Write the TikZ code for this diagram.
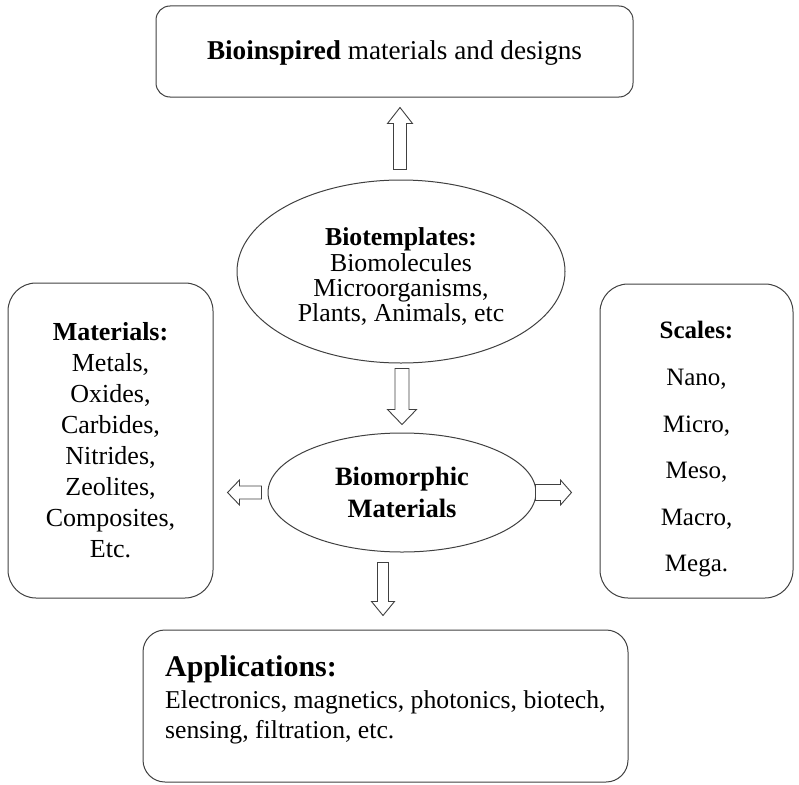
\documentclass[tikz,border=0pt]{standalone}
\usepackage{fontspec}
\setmainfont{Liberation Serif}
\usetikzlibrary{shapes.geometric,calc}
\tikzset{
  box/.style={draw=black!75, line width=1pt, rounded corners=#1, inner sep=0pt, align=center},
  box/.default=14pt,
  ell/.style={draw=black!75, line width=1pt, ellipse, inner sep=0pt, align=center},
  arrline/.style={draw=black!75, line width=0.9pt, fill=white},
  pics/barrow/.style args={#1/#2/#3/#4}{code={
    \path[arrline] (0,-#2) -- ({#1-#4},-#2) -- ({#1-#4},-#3) -- (#1,0) -- ({#1-#4},#3) -- ({#1-#4},#2) -- (0,#2) -- cycle;
  }}
}
\begin{document}
\begin{tikzpicture}[x=1pt,y=-1pt]
\useasboundingbox (0,0) rectangle (799,784);

\node[box=14pt, minimum width=477pt, minimum height=91pt, font=\fontsize{27.2}{30}\selectfont] (top) at (394.5,51.5) {\rule{0pt}{22.5pt}\textbf{Bioinspired} materials and designs};

\node[ell, minimum width=328pt, minimum height=183pt, font=\fontsize{25.8}{25.3}\selectfont] (bt) at (401,271.5) {\rule{0pt}{28.5pt}\textbf{Biotemplates:}\\Biomolecules\\Microorganisms,\\Plants, Animals, etc};

\node[ell, minimum width=268pt, minimum height=119pt, font=\fontsize{26.5}{32}\selectfont\bfseries] (bm) at (402,492.5) {Biomorphic\\Materials};

\node[box=28pt, minimum width=205pt, minimum height=315pt, font=\fontsize{26}{31}\selectfont] (mat) at (110.5,440.5) {\textbf{Materials:}\\Metals,\\Oxides,\\Carbides,\\Nitrides,\\Zeolites,\\Composites,\\Etc.};

\node[box=28pt, minimum width=193pt, minimum height=314pt, font=\fontsize{25}{46.6}\selectfont] (sc) at (696.5,441) {\rule{0pt}{34pt}\textbf{Scales:}\\Nano,\\Micro,\\Meso,\\Macro,\\Mega.};

\node[box=22pt, minimum width=485pt, minimum height=152pt] (app) at (385.5,706) {};
\node[anchor=north west, inner sep=0pt, align=left, font=\fontsize{25.7}{30}\selectfont] (apptext) at (165,655) {{\fontsize{30}{32}\selectfont\bfseries Applications:}\\[2pt]Electronics, magnetics, photonics, biotech,\\sensing, filtration, etc.};

\pic[rotate=90] at ($(bt.north)+(-1,-10)$) {barrow=62/6.5/12.5/16};
\pic[rotate=-90] at ($(bt.south)+(1,5)$) {barrow=56/7/14.5/15};
\pic[rotate=180] at ($(bm.west)+(-6,0)$) {barrow=34/6.5/12.5/12};
\pic at ($(bm.east)+(-1,0)$) {barrow=36/8/12.5/11};
\pic[rotate=-90] at ($(bm.south)+(-19,10)$) {barrow=53/5.5/11.5/14};
\end{tikzpicture}
\end{document}
